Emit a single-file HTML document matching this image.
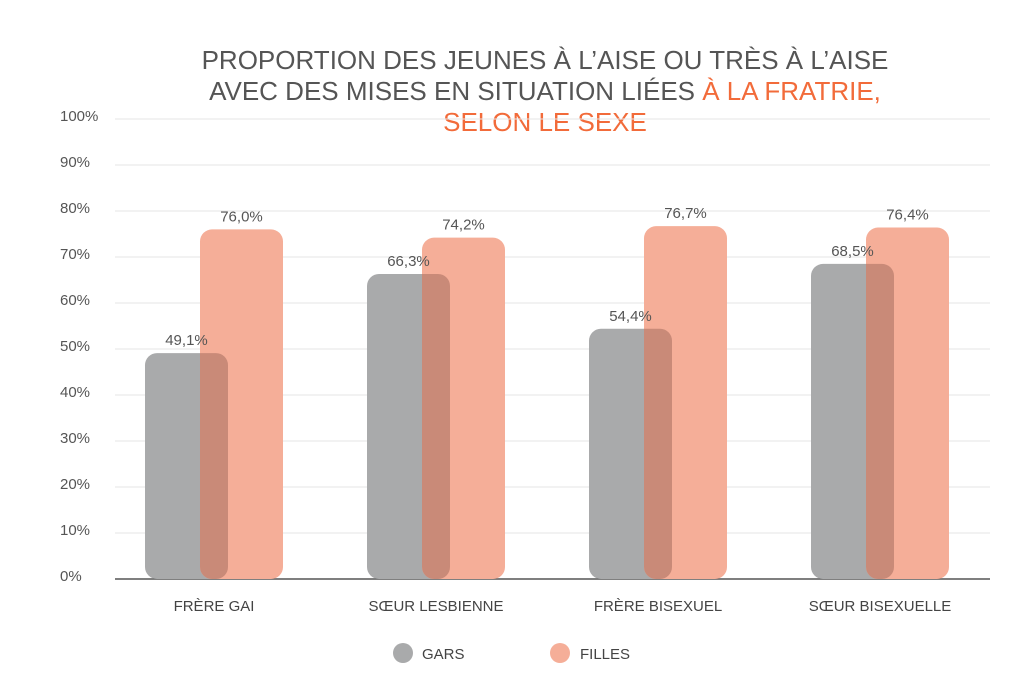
<!DOCTYPE html>
<html><head><meta charset="utf-8"><style>
body{margin:0;background:#fff;}
svg{display:block;font-family:"Liberation Sans",sans-serif;}
</style></head><body>
<svg id="c" width="1024" height="698">
<g font-size="26" fill="#555" text-anchor="middle">
<text x="545" y="69">PROPORTION DES JEUNES À L’AISE OU TRÈS À L’AISE</text>
<text x="545" y="100">AVEC DES MISES EN SITUATION LIÉES <tspan fill="#f26b3a">À LA FRATRIE,</tspan></text>
<text x="545" y="131" fill="#f26b3a">SELON LE SEXE</text>
</g>
<g id="grid"></g><g id="bars"></g>
<g>
<circle cx="403" cy="653" r="10" fill="#a9aaab"/>
<text x="422" y="659" font-size="15" fill="#444">GARS</text>
<circle cx="560" cy="653" r="10" fill="#f5ae98"/>
<text x="580" y="659" font-size="15" fill="#444">FILLES</text>
</g>
</svg>
<script>
const categories=["FRÈRE GAI","SŒUR LESBIENNE","FRÈRE BISEXUEL","SŒUR BISEXUELLE"];
const gars=[49.1,66.3,54.4,68.5];
const filles=[76.0,74.2,76.7,76.4];
const ticks=[0,10,20,30,40,50,60,70,80,90,100];
const NS="http://www.w3.org/2000/svg";
const y0=579,pxPer=4.6;
const y=v=>y0-v*pxPer;
const xc=i=>214+i*222;
const fmt=v=>v.toFixed(1).replace('.',',')+'%';
function mk(t,a,p){const e=document.createElementNS(NS,t);for(const k in a)e.setAttribute(k,a[k]);p.appendChild(e);return e;}
const grid=document.getElementById('grid'),bars=document.getElementById('bars');
ticks.forEach(t=>{
  const l=mk('line',{x1:115,x2:990,y1:y(t),y2:y(t),stroke:t===0?'#555':'#e6e6e6','stroke-width':t===0?1.5:1},grid);
  
  
  const tx=mk('text',{x:60,y:y(t)+2,'font-size':15,fill:'#555'},grid);
  tx.textContent=t+'%';
  
  
});
const w=83;
categories.forEach((c,i)=>{
  const gx=xc(i)-69,fx=xc(i)-14;
  const g=mk('rect',{x:gx,y:y(gars[i]),width:w,height:y0-y(gars[i]),rx:12,fill:'#a9aaab'},bars);
  
  
  const f=mk('rect',{x:fx,y:y(filles[i]),width:w,height:y0-y(filles[i]),rx:12,fill:'#f5ae98'},bars);
  
  
  const cp=mk('clipPath',{id:'cp'+i},bars);
  mk('rect',{x:fx,y:y(filles[i]),width:w,height:y0-y(filles[i]),rx:12},cp);
  const o=mk('rect',{x:gx,y:y(gars[i]),width:w,height:y0-y(gars[i]),rx:12,fill:'#c98a78','clip-path':'url(#cp'+i+')'},bars);
  
  
  const lg=mk('text',{x:gx+w/2,y:y(gars[i])-8,'font-size':15,fill:'#555','text-anchor':'middle'},bars);
  lg.textContent=fmt(gars[i]);
  
  
  const lf=mk('text',{x:fx+w/2,y:y(filles[i])-8,'font-size':15,fill:'#555','text-anchor':'middle'},bars);
  lf.textContent=fmt(filles[i]);
  
  
  const cl=mk('text',{x:xc(i),y:611,'font-size':15,fill:'#444','text-anchor':'middle'},bars);
  cl.textContent=c;
  
  
});
</script>
</body></html>
